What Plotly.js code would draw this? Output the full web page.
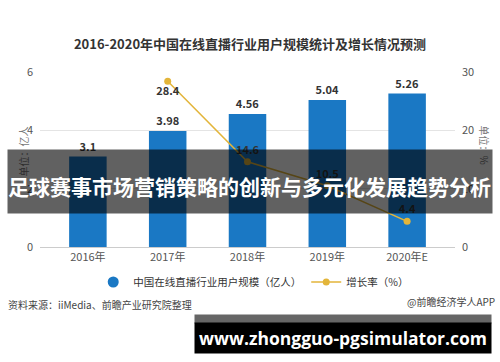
<!DOCTYPE html>
<html>
<head>
<meta charset="utf-8">
<script src="https://cdn.plot.ly/plotly-3.0.1.min.js"></script>
<style>html,body{margin:0;padding:0;background:#fff;}#chart{width:500px;height:362px;}</style>
</head>
<body>
<div id="chart"></div>
<script>
const categories = ["2016年", "2017年", "2018年", "2019年", "2020年E"];
const users = [3.1, 3.98, 4.56, 5.04, 5.26];
const growth = [null, 28.4, 14.6, 10.5, 4.4];
const growthLabels = ["", "28.4", "14.6", "10.5", "4.4"];
const leftTicks = [0, 2, 4, 6];
const rightTicks = [0, 10, 20, 30];

const W = 500, H = 362, L = 40, R = 45, T = 72, B = 115;
const pw = W - L - R, ph = H - T - B;
const px = x => (x - L) / pw;
const py = y => (H - B - y) / ph;
const font = "Noto Sans CJK SC, Noto Sans, sans-serif";

const bars = {
  type: "bar", x: categories, y: users, name: "中国在线直播行业用户规模（亿人）", showlegend: false,
  marker: {color: "#1a78c4"}, width: 0.47,
  text: users.map(v => String(v)), textposition: "outside",
  textfont: {family: font, size: 11, color: "#333", weight: 700},
  cliponaxis: false, hoverinfo: "none"
};
const barLegend = {
  type: "scatter", mode: "markers", x: [null], y: [null], name: "中国在线直播行业用户规模（亿人）",
  marker: {color: "#1a78c4", size: 11, symbol: "circle"}, hoverinfo: "none"
};
const line = {
  type: "scatter", mode: "lines+markers+text", x: categories, y: growth, yaxis: "y2",
  name: "增长率（%）", line: {color: "#e3b53a", width: 1.5},
  marker: {color: "#e3b53a", size: 7},
  text: growthLabels, textposition: ["top center", "bottom center", "top center", "top center", "top center"],
  textfont: {family: font, size: 11, color: "#333", weight: 700},
  cliponaxis: false, hoverinfo: "none"
};

const layout = {
  width: W, height: H, margin: {l: L, r: R, t: T, b: B},
  paper_bgcolor: "#fff", plot_bgcolor: "#fff",
  font: {family: font, color: "#555", size: 11},
  title: {text: "<b>2016-2020年中国在线直播行业用户规模统计及增长情况预测</b>", x: 0.5, xanchor: "center",
          y: 1 - 44 / H, yanchor: "middle", font: {family: font, size: 13, color: "#333"}},
  showlegend: true,
  legend: {orientation: "h", x: 0.515, xanchor: "center", y: py(282), yanchor: "middle",
           font: {family: font, size: 10.5, color: "#333"}, itemwidth: 30},
  xaxis: {type: "category", range: [-0.6, 4.6], showgrid: false, showline: true, linecolor: "#ccc",
          ticks: "", tickfont: {family: font, size: 11, color: "#555"}, zeroline: false},
  yaxis: {range: [0, 6], tickvals: leftTicks, ticktext: leftTicks.map(String), showgrid: true,
          gridcolor: "#e4e4e4", zeroline: false, showline: false, ticks: "", ticklabelstandoff: 6,
          tickfont: {family: font, size: 11, color: "#555"}},
  yaxis2: {range: [0, 30], overlaying: "y", side: "right", tickvals: rightTicks, ticktext: rightTicks.map(String),
           showgrid: false, zeroline: false, showline: false, ticks: "", ticklabelstandoff: 6,
           tickfont: {family: font, size: 11, color: "#555"}},
  annotations: [
    {text: "单位：亿人", xref: "paper", yref: "paper", x: px(13), y: py(152), textangle: -90, showarrow: false,
     font: {family: font, size: 10, color: "#777"}},
    {text: "单位：%", xref: "paper", yref: "paper", x: px(494), y: py(145), textangle: 90, showarrow: false,
     font: {family: font, size: 10, color: "#777"}},
    {text: "资料来源：iiMedia、前瞻产业研究院整理", xref: "paper", yref: "paper", x: px(6), xanchor: "left",
     y: py(314), showarrow: false, font: {family: font, size: 10, color: "#444"}},
    {text: "@前瞻经济学人APP", xref: "paper", yref: "paper", x: px(497), xanchor: "right",
     y: py(311), showarrow: false, font: {family: font, size: 10, color: "#444"}},
    {text: " ", xref: "paper", yref: "paper", x: px(250), y: py(181.5), xanchor: "center", yanchor: "middle",
     width: 484, height: 63, borderpad: 0, bgcolor: "rgba(0,0,0,0.62)", showarrow: false, font: {size: 6}},
    {text: "<b>足球赛事市场营销策略的创新与多元化发展趋势分析</b>", xref: "paper", yref: "paper", x: px(250), y: py(186),
     xanchor: "center", yanchor: "middle", showarrow: false, font: {family: font, size: 21, color: "#fff"}},
    {text: " ", xref: "paper", yref: "paper", x: px(343), y: py(319), xanchor: "center", yanchor: "middle",
     width: 296, height: 8, borderpad: 0, bgcolor: "#666", showarrow: false, font: {size: 6}},
    {text: "<b>www.zhongguo-pgsimulator.com</b>", xref: "paper", yref: "paper", x: px(343), y: py(338),
     xanchor: "center", yanchor: "middle", width: 296, height: 30, borderpad: 0, bgcolor: "#000",
     showarrow: false, font: {family: "Open Sans, sans-serif", size: 17.5, color: "#fff"}}
  ]
};

Plotly.newPlot("chart", [bars, barLegend, line], layout, {displayModeBar: false, staticPlot: true});
</script>
</body>
</html>
